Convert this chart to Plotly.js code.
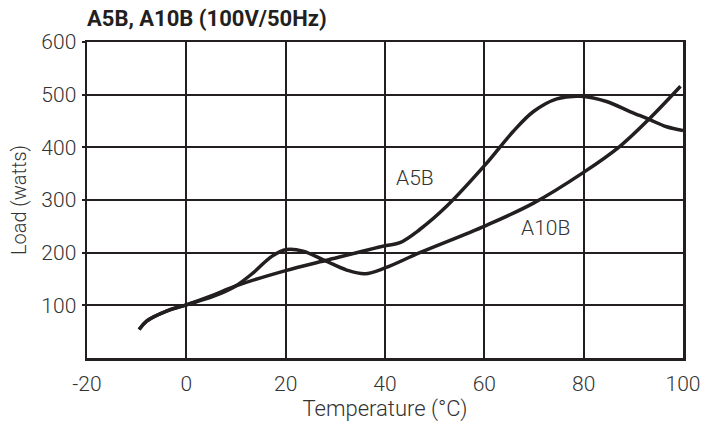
<!DOCTYPE html>
<html>
<head>
<meta charset="utf-8">
<script src="https://cdn.plot.ly/plotly-3.0.1.min.js"></script>
<style>
html,body{margin:0;padding:0;background:#fff;}
#chart{width:709px;height:429px;}
</style>
</head>
<body>
<div id="chart"></div>
<script>
// Series
const tempA5B = [-9.5, -8, -4, 0, 5, 10, 20, 28, 40, 43, 47, 52.4, 60.2, 65.8, 69.9, 74.6, 79.3, 84.6, 89.3, 93.2, 96.7, 100];
const loadA5B = [54, 70, 89, 101, 118, 137, 166, 185, 213, 219, 244, 288, 367, 430, 468, 492, 497, 487, 468, 453, 439, 432];

const tempA10B = [-9.5, -8, -4, 0, 5.4, 9.8, 13.5, 17.2, 20.2, 23.5, 27.9, 32.3, 36, 40, 47, 60.2, 69.9, 79.9, 87.3, 93.2, 99.5];
const loadA10B = [54, 70, 89, 101, 117, 136, 162, 193, 206, 203, 185, 167, 160, 171, 200, 251, 294, 352, 402, 454, 516];

const xTicks = [-20, 0, 20, 40, 60, 80, 100];
const xTickLabels = ['-20', '0', '20', '40', '60', '80', '100'];
const yTicks = [100, 200, 300, 400, 500, 600];
const yTickLabels = ['100', '200', '300', '400', '500', '600'];

const seriesLabels = [
  {text: 'A5B', x: 46, y: 342},
  {text: 'A10B', x: 72.4, y: 246}
];

const FONT = 'Roboto, "Liberation Sans Narrow", sans-serif';
const INK = '#231f20';
const TXT = '#333333';

const lineStyle = {color: INK, width: 3.5, shape: 'spline', smoothing: 1};

const traces = [
  {x: tempA5B, y: loadA5B, type: 'scatter', mode: 'lines', name: 'A5B', line: lineStyle, hoverinfo: 'x+y+name'},
  {x: tempA10B, y: loadA10B, type: 'scatter', mode: 'lines', name: 'A10B', line: lineStyle, hoverinfo: 'x+y+name'}
];

const layout = {
  width: 709, height: 429,
  margin: {l: 87, r: 26, t: 42, b: 70.5, pad: 0},
  paper_bgcolor: '#fff', plot_bgcolor: '#fff',
  showlegend: false,
  font: {family: FONT, color: TXT, size: 21, weight: 300},
  title: {
    text: '<b>A5B, A10B (100V/50Hz)</b>',
    font: {family: FONT, size: 22, color: INK},
    x: 0, xref: 'paper', xanchor: 'left',
    y: 1 - 18/429, yref: 'container', yanchor: 'middle'
  },
  xaxis: {
    range: [-20, 100],
    tickmode: 'array', tickvals: xTicks, ticktext: xTickLabels,
    showgrid: true, gridcolor: INK, gridwidth: 2,
    showline: true, linecolor: INK, linewidth: 2.5, mirror: true,
    zeroline: false, ticks: '',
    ticklabelstandoff: 5,
    tickfont: {family: FONT, size: 21, color: TXT, weight: 300},
    title: {text: 'Temperature (°C)', font: {family: FONT, size: 22, color: TXT, weight: 300}, standoff: 1}
  },
  yaxis: {
    range: [0, 600],
    tickmode: 'array', tickvals: yTicks, ticktext: yTickLabels,
    showgrid: true, gridcolor: INK, gridwidth: 2,
    showline: true, linecolor: INK, linewidth: 2.5, mirror: true,
    zeroline: false, ticks: 'outside', ticklen: 3, tickwidth: 2, tickcolor: INK,
    ticklabelstandoff: 1,
    tickfont: {family: FONT, size: 21, color: TXT, weight: 300},
    title: {text: 'Load (watts)', font: {family: FONT, size: 20, color: TXT, weight: 300}, standoff: 10}
  },
  annotations: seriesLabels.map(l => ({
    text: l.text, x: l.x, y: l.y, xref: 'x', yref: 'y',
    showarrow: false, font: {family: FONT, size: 21, color: TXT, weight: 300}
  }))
};

Plotly.newPlot('chart', traces, layout, {displayModeBar: false, staticPlot: true});
</script>
</body>
</html>
